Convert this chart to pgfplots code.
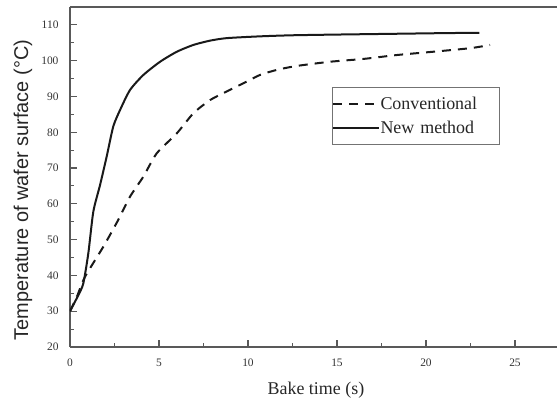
\documentclass[border=0pt]{standalone}
\usepackage{fontspec}
\setmainfont{Liberation Serif}
\newfontfamily\labelsans{Liberation Sans}
\usepackage{pgfplots}
\pgfplotsset{compat=1.18}

\begin{document}
\begin{tikzpicture}
\begin{axis}[
  scale only axis, width=487bp, height=340bp,
  xmin=0, xmax=27.36, ymin=20, ymax=115,
  axis x line*=box, axis y line*=left,
  hide obscured x ticks=false, hide obscured y ticks=false,
  xtick pos=left, ytick pos=left,
  tick align=inside,
  xtick={0,5,...,25}, ytick={20,30,...,110},
  minor x tick num=1, minor y tick num=1,
  major tick length=7bp, minor tick length=4bp,
  axis line style={black!65, line width=1.3bp, -},
  every tick/.style={black!65, line width=1.1bp},
  tick label style={font=\fontsize{11.5}{13}\selectfont, text=black!80},
  /pgf/number format/assume math mode=true,
  xticklabel style={yshift=-8bp},
  yticklabel style={xshift=-8bp},
  xlabel={Bake time (s)},
  ylabel={\labelsans Temperature of wafer surface (°C)},
  every axis x label/.style={at={(rel axis cs:0.505,0)}, anchor=base, yshift=-48bp,
    font=\fontsize{18}{20}\selectfont, text=black!85},
  every axis y label/.style={at={(rel axis cs:-0.0965,0.462)}, rotate=90, anchor=center,
    font=\fontsize{20}{22}\selectfont, text=black!85},
  legend style={at={(rel axis cs:0.538,0.765)}, anchor=north west,
    draw=black!55, line width=0.8bp, inner xsep=0pt, inner ysep=8.5bp,
    font=\fontsize{18}{18}\selectfont, text=black!85, row sep=8bp,
    nodes={inner xsep=0.5bp, inner ysep=1bp},
    /tikz/every even column/.append style={text width=118bp}},
  legend cell align=left,
  legend image code/.code={\draw[#1, line width=1.6bp] (0bp,0bp) -- (46bp,0bp);},
]
\coordinate (sw) at (rel axis cs:0,0);
\coordinate (ne) at (rel axis cs:1,1);

% conventional bake
\addplot[black!90, line width=2bp, dash pattern=on 9bp off 7bp, smooth, tension=0.4]
  coordinates {
  (0,30) (0.4,34.2) (0.84,39.6) (1.87,48.0) (2.71,55.5) (3.37,62.0)
  (4.12,67.6) (4.87,74.1) (6.0,79.7) (6.93,85.3) (7.87,89.0) (8.8,91.4)
  (9.74,93.7) (10.67,96.0) (11.6,97.4) (12.7,98.5) (14.6,99.7) (16.5,100.5)
  (18.4,101.6) (20.4,102.5) (22.5,103.5) (23.6,104.4)
  };
\addlegendentry{Conventional}

% new method
\addplot[black!90, line width=2bp, smooth, tension=0.4]
  coordinates {
  (0,30) (0.47,34.5) (0.75,37.8) (1.03,46.2) (1.31,57.8) (1.69,65.3)
  (2.06,73.2) (2.43,81.6) (2.81,86.2) (3.37,91.8) (4.12,96.0) (5.06,99.7)
  (6.0,102.5) (6.93,104.4) (7.87,105.6) (8.8,106.3) (10.67,106.8)
  (12.5,107.1) (15,107.3) (18,107.5) (21,107.7) (23.0,107.8)
  };
\addlegendentry{New method}
\end{axis}
\pgfresetboundingbox
\path[use as bounding box] ([shift={(-70bp,-53bp)}]sw) rectangle ([shift={(0bp,7bp)}]ne);
\end{tikzpicture}
\end{document}
